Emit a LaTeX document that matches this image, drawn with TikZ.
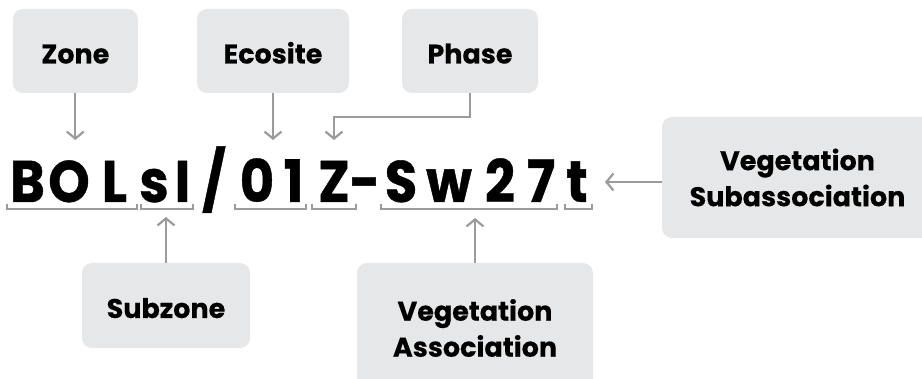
\documentclass[tikz,border=0pt]{standalone}
\usepackage{fontspec}
\setmainfont{Poppins}[BoldFeatures={FakeBold=0.35}]
\newfontfamily\codefont{Poppins}[FakeStretch=0.9,BoldFeatures={FakeBold=0.7}]
\usetikzlibrary{arrows.meta}
\definecolor{boxgray}{HTML}{E6E7E8}
\definecolor{linegray}{HTML}{9A9B9E}

\begin{document}
\begin{tikzpicture}[x=1pt,y=-1pt,
  labelbox/.style={fill=boxgray, rounded corners=10pt, inner sep=0pt,
    align=center, font=\bfseries\fontsize{27}{36}\selectfont},
  onelinebox/.style={labelbox, text height=25pt, text depth=0pt},
  codechar/.style={anchor=base, inner sep=0pt,
    font=\codefont\bfseries\fontsize{58.6}{60}\selectfont},
  bracket/.style={draw=linegray, line width=1.6pt},
  pointer/.style={draw=linegray, line width=2.2pt,
    -{Straight Barb[length=7pt,width=17pt]}},
]
\useasboundingbox (0,0) rectangle (922,379);
\clip (0,0) rectangle (922,379);

% label boxes
\node[onelinebox, minimum width=125pt, minimum height=84pt] (zone) at (75.3,51) {Zone};
\node[onelinebox, minimum width=152pt, minimum height=84pt] (ecosite) at (273,51) {Ecosite};
\node[onelinebox, minimum width=136pt, minimum height=84pt] (phase) at (470,51) {Phase};
\node[onelinebox, minimum width=168pt, minimum height=85pt] (subzone) at (166,305.5) {Subzone};
\node[labelbox, minimum width=236pt, minimum height=130pt] (vassoc) at (475,328) {Vegetation\\Association};
\node[labelbox, minimum width=271pt, minimum height=121pt] (vsub) at (797.5,177.5) {Vegetation\\Subassociation};

% the ecosite code, one glyph per node
\node[codechar] (cB) at (27.5,202) {B};
\node[codechar] (cO) at (69,202) {O};
\node[codechar] (cL) at (114.5,202) {L};
\node[codechar] (cs) at (154,202) {s};
\node[codechar] (cI) at (182.5,202) {I};
\node[codechar] (cslash) at (214,202) {/};
\node[codechar] (c0) at (257,202) {0};
\node[codechar] (c1) at (293.5,202) {1};
\node[codechar] (cZ) at (334,202) {Z};
\node[codechar] (cdash) at (365,202) {-};
\node[codechar] (cS) at (401,202) {S};
\node[codechar] (cw) at (449,202) {w};
\node[codechar] (c2) at (500,202) {2};
\node[codechar] (c7) at (541,202) {7};
\node[codechar] (ct) at (577,202) {t};

% brackets under each part of the code
\draw[bracket] (7,204) |- (137,209) -- (137,204);
\draw[bracket] (141,204) |- (193,209) -- (193,204);
\draw[bracket] (235,204) |- (306,209) -- (306,204);
\draw[bracket] (312,204) |- (356,209) -- (356,204);
\draw[bracket] (381,204) |- (557,209) -- (557,204);
\draw[bracket] (565,204) |- (592,209) -- (592,204);

% arrow tips
\coordinate (zoneTip) at (75.3,140);
\coordinate (ecositeTip) at (273,140);
\coordinate (phaseTip) at (334,140);
\coordinate (subzoneTip) at (166,217);
\coordinate (vassocTip) at (475,218);
\coordinate (vsubTip) at (605,182);

% pointers
\draw[pointer] (zone.south) -- (zoneTip);
\draw[pointer] (ecosite.south) -- (ecositeTip);
\draw[pointer] (phase.south) -- ++(0,24) -| (phaseTip);
\draw[pointer] (subzone.north) -- (subzoneTip);
\draw[pointer] (vassoc.north) -- (vassocTip);
\draw[pointer] (vsubTip -| vsub.west) -- (vsubTip);
\end{tikzpicture}
\end{document}
